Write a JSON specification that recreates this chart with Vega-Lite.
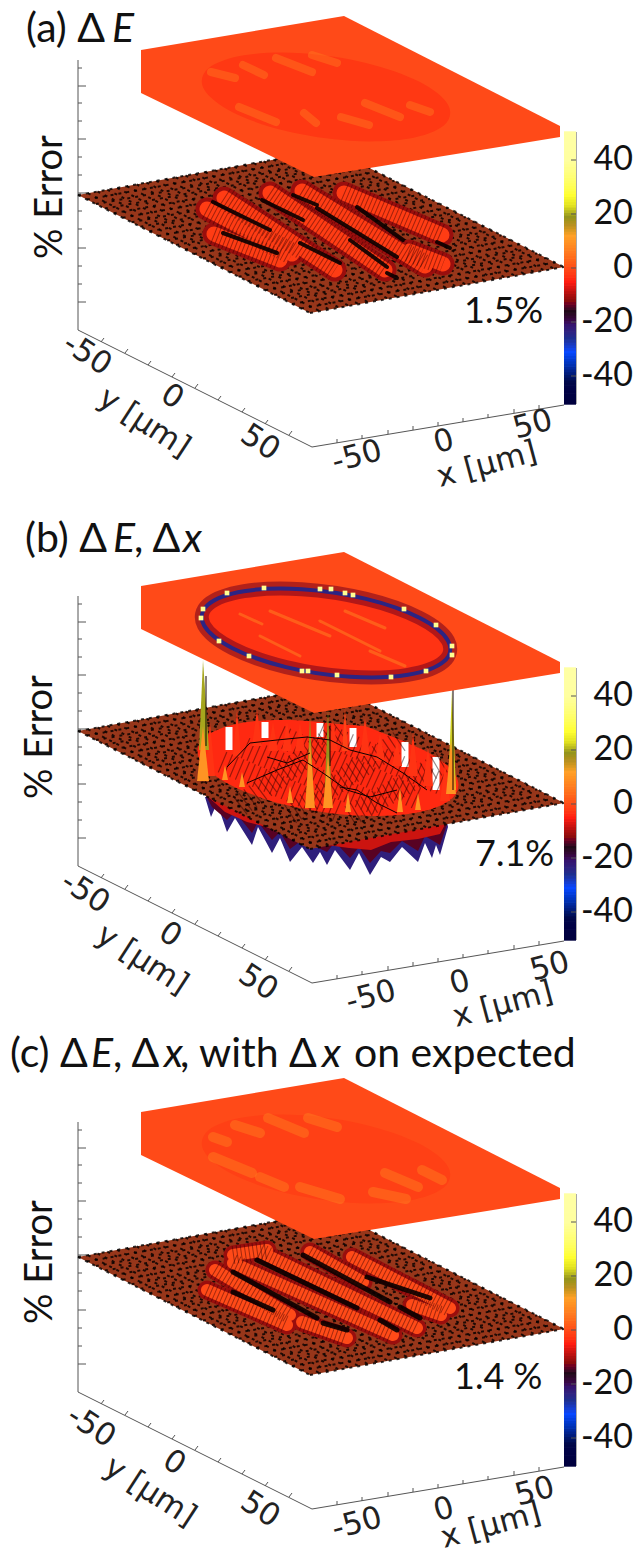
{
"$schema":"https://vega.github.io/schema/vega-lite/v6.json",
"padding":0,"spacing":0,"bounds":"flush","background":"white",
"config":{"view":{"stroke":null},"legend":{"disable":true},"text":{"font":"Lato"}},
"datasets":{
"bar":[{"e":-50},{"e":-49},{"e":-48},{"e":-47},{"e":-46},{"e":-45},{"e":-44},{"e":-43},{"e":-42},{"e":-41},{"e":-40},{"e":-39},{"e":-38},{"e":-37},{"e":-36},{"e":-35},{"e":-34},{"e":-33},{"e":-32},{"e":-31},{"e":-30},{"e":-29},{"e":-28},{"e":-27},{"e":-26},{"e":-25},{"e":-24},{"e":-23},{"e":-22},{"e":-21},{"e":-20},{"e":-19},{"e":-18},{"e":-17},{"e":-16},{"e":-15},{"e":-14},{"e":-13},{"e":-12},{"e":-11},{"e":-10},{"e":-9},{"e":-8},{"e":-7},{"e":-6},{"e":-5},{"e":-4},{"e":-3},{"e":-2},{"e":-1},{"e":0},{"e":1},{"e":2},{"e":3},{"e":4},{"e":5},{"e":6},{"e":7},{"e":8},{"e":9},{"e":10},{"e":11},{"e":12},{"e":13},{"e":14},{"e":15},{"e":16},{"e":17},{"e":18},{"e":19},{"e":20},{"e":21},{"e":22},{"e":23},{"e":24},{"e":25},{"e":26},{"e":27},{"e":28},{"e":29},{"e":30},{"e":31},{"e":32},{"e":33},{"e":34},{"e":35},{"e":36},{"e":37},{"e":38},{"e":39},{"e":40},{"e":41},{"e":42},{"e":43},{"e":44},{"e":45},{"e":46},{"e":47},{"e":48},{"e":49},{"e":50}],
"barLabel":[{"e":40},{"e":20},{"e":0},{"e":-20},{"e":-40}],
"axis":[{"x":78,"y":60,"x2":78,"y2":330},{"x":78,"y":330,"x2":312,"y2":447},{"x":312,"y":447,"x2":564,"y2":405},{"x":576,"y":132,"x2":576,"y2":404},{"x":78,"y":86,"x2":86,"y2":86},{"x":78,"y":139,"x2":86,"y2":139},{"x":78,"y":193,"x2":86,"y2":193},{"x":78,"y":248,"x2":86,"y2":248},{"x":78,"y":302,"x2":86,"y2":302},{"x":78,"y":68,"x2":82,"y2":68},{"x":78,"y":103,"x2":82,"y2":103},{"x":78,"y":121,"x2":82,"y2":121},{"x":78,"y":157,"x2":82,"y2":157},{"x":78,"y":175,"x2":82,"y2":175},{"x":78,"y":211,"x2":82,"y2":211},{"x":78,"y":229,"x2":82,"y2":229},{"x":78,"y":266,"x2":82,"y2":266},{"x":78,"y":284,"x2":82,"y2":284},{"x":101,"y":342,"x2":104,"y2":338},{"x":125,"y":353,"x2":128,"y2":349},{"x":148,"y":365,"x2":151,"y2":361},{"x":172,"y":377,"x2":175,"y2":373},{"x":195,"y":388,"x2":198,"y2":384},{"x":218,"y":400,"x2":221,"y2":396},{"x":242,"y":412,"x2":245,"y2":408},{"x":265,"y":424,"x2":268,"y2":420},{"x":289,"y":435,"x2":292,"y2":431},{"x":337,"y":443,"x2":337,"y2":439},{"x":362,"y":439,"x2":362,"y2":435},{"x":388,"y":434,"x2":388,"y2":430},{"x":413,"y":430,"x2":413,"y2":426},{"x":438,"y":426,"x2":438,"y2":422},{"x":463,"y":422,"x2":463,"y2":418},{"x":488,"y":418,"x2":488,"y2":414},{"x":514,"y":413,"x2":514,"y2":409},{"x":539,"y":409,"x2":539,"y2":405}],
"basePlate":[{"o":1,"x":78,"y":195},{"o":2,"x":310,"y":313},{"o":3,"x":564,"y":267},{"o":4,"x":332,"y":149}],
"topPlate":[{"o":1,"x":141,"y":50},{"o":2,"x":344,"y":16},{"o":3,"x":560,"y":126},{"o":4,"x":560,"y":137},{"o":5,"x":314,"y":177},{"o":6,"x":141,"y":93}],
"mesh":[{"x":78,"y":195,"x2":310,"y2":313},{"x":87.8,"y":193.2,"x2":319.8,"y2":311.2},{"x":97.5,"y":191.5,"x2":329.5,"y2":309.5},{"x":107.3,"y":189.7,"x2":339.3,"y2":307.7},{"x":117.1,"y":187.9,"x2":349.1,"y2":305.9},{"x":126.8,"y":186.2,"x2":358.8,"y2":304.2},{"x":136.6,"y":184.4,"x2":368.6,"y2":302.4},{"x":146.4,"y":182.6,"x2":378.4,"y2":300.6},{"x":156.2,"y":180.8,"x2":388.2,"y2":298.8},{"x":165.9,"y":179.1,"x2":397.9,"y2":297.1},{"x":175.7,"y":177.3,"x2":407.7,"y2":295.3},{"x":185.5,"y":175.5,"x2":417.5,"y2":293.5},{"x":195.2,"y":173.8,"x2":427.2,"y2":291.8},{"x":205,"y":172,"x2":437,"y2":290},{"x":214.8,"y":170.2,"x2":446.8,"y2":288.2},{"x":224.5,"y":168.5,"x2":456.5,"y2":286.5},{"x":234.3,"y":166.7,"x2":466.3,"y2":284.7},{"x":244.1,"y":164.9,"x2":476.1,"y2":282.9},{"x":253.8,"y":163.2,"x2":485.8,"y2":281.2},{"x":263.6,"y":161.4,"x2":495.6,"y2":279.4},{"x":273.4,"y":159.6,"x2":505.4,"y2":277.6},{"x":283.2,"y":157.8,"x2":515.2,"y2":275.8},{"x":292.9,"y":156.1,"x2":524.9,"y2":274.1},{"x":302.7,"y":154.3,"x2":534.7,"y2":272.3},{"x":312.5,"y":152.5,"x2":544.5,"y2":270.5},{"x":322.2,"y":150.8,"x2":554.2,"y2":268.8},{"x":332,"y":149,"x2":564,"y2":267},
{"x":78,"y":195,"x2":332,"y2":149},{"x":86.9,"y":199.5,"x2":340.9,"y2":153.5},{"x":95.8,"y":204.1,"x2":349.8,"y2":158.1},{"x":104.8,"y":208.6,"x2":358.8,"y2":162.6},{"x":113.7,"y":213.2,"x2":367.7,"y2":167.2},{"x":122.6,"y":217.7,"x2":376.6,"y2":171.7},{"x":131.5,"y":222.2,"x2":385.5,"y2":176.2},{"x":140.4,"y":226.8,"x2":394.4,"y2":180.8},{"x":149.4,"y":231.3,"x2":403.4,"y2":185.3},{"x":158.3,"y":235.9,"x2":412.3,"y2":189.9},{"x":167.2,"y":240.4,"x2":421.2,"y2":194.4},{"x":176.1,"y":244.9,"x2":430.1,"y2":198.9},{"x":185,"y":249.5,"x2":439,"y2":203.5},{"x":194,"y":254,"x2":448,"y2":208},{"x":202.9,"y":258.6,"x2":456.9,"y2":212.6},{"x":211.8,"y":263.1,"x2":465.8,"y2":217.1},{"x":220.7,"y":267.6,"x2":474.7,"y2":221.6},{"x":229.6,"y":272.2,"x2":483.6,"y2":226.2},{"x":238.6,"y":276.7,"x2":492.6,"y2":230.7},{"x":247.5,"y":281.3,"x2":501.5,"y2":235.3},{"x":256.4,"y":285.8,"x2":510.4,"y2":239.8},{"x":265.3,"y":290.3,"x2":519.3,"y2":244.3},{"x":274.2,"y":294.9,"x2":528.2,"y2":248.9},{"x":283.2,"y":299.4,"x2":537.2,"y2":253.4},{"x":292.1,"y":304,"x2":546.1,"y2":258},{"x":301,"y":308.5,"x2":555,"y2":262.5},{"x":310,"y":313,"x2":564,"y2":267}],
"ell":[{"o":1,"x":424.5,"y":214.5},{"o":2,"x":455.6,"y":239.2},{"o":3,"x":452.5,"y":262},{"o":4,"x":416,"y":276.8},{"o":5,"x":355.9,"y":279.6},{"o":6,"x":288.4,"y":269.6},{"o":7,"x":231.5,"y":249.5},{"o":8,"x":200.4,"y":224.8},{"o":9,"x":203.5,"y":202},{"o":10,"x":240,"y":187.2},{"o":11,"x":300.1,"y":184.4},{"o":12,"x":367.6,"y":194.4}],
"topEll":[{"o":1,"x":419.5,"y":81.8},{"o":2,"x":448,"y":104.7},{"o":3,"x":443.8,"y":125.6},{"o":4,"x":408,"y":138.8},{"o":5,"x":350.2,"y":140.8},{"o":6,"x":286,"y":131.1},{"o":7,"x":232.5,"y":112.2},{"o":8,"x":204,"y":89.3},{"o":9,"x":208.2,"y":68.4},{"o":10,"x":244,"y":55.2},{"o":11,"x":301.8,"y":53.2},{"o":12,"x":366,"y":62.9}],
"ridge":[{"p":"a","x":207,"y":209,"x2":292,"y2":254},{"p":"a","x":214,"y":234,"x2":280,"y2":260},{"p":"a","x":224,"y":198,"x2":335,"y2":270},{"p":"a","x":270,"y":193,"x2":385,"y2":270},{"p":"a","x":302,"y":191,"x2":425,"y2":266},{"p":"a","x":344,"y":193,"x2":442,"y2":235},{"p":"a","x":409,"y":251,"x2":443,"y2":264},
{"p":"b","x":222,"y":226,"x2":340,"y2":276},{"p":"b","x":245,"y":212,"x2":385,"y2":272},{"p":"b","x":280,"y":200,"x2":420,"y2":264},{"p":"b","x":320,"y":196,"x2":446,"y2":250},{"p":"b","x":240,"y":270,"x2":340,"y2":195},{"p":"b","x":290,"y":278,"x2":400,"y2":205},{"p":"b","x":350,"y":280,"x2":445,"y2":225},
{"p":"c","x":207,"y":228,"x2":287,"y2":263},{"p":"c","x":215,"y":208,"x2":290,"y2":253},{"p":"c","x":233,"y":201,"x2":393,"y2":273},{"p":"c","x":260,"y":190,"x2":417,"y2":266},{"p":"c","x":310,"y":190,"x2":363,"y2":220},{"p":"c","x":352,"y":195,"x2":450,"y2":246},{"p":"c","x":412,"y":243,"x2":441,"y2":253},{"p":"c","x":302,"y":260,"x2":347,"y2":276},{"p":"c","x":233,"y":193,"x2":267,"y2":188}],
"gap":[{"p":"a","x":213,"y":202,"x2":270,"y2":230},{"p":"a","x":262,"y":200,"x2":303,"y2":220},{"p":"a","x":293,"y":195,"x2":317,"y2":205},{"p":"a","x":317,"y":208,"x2":397,"y2":257},{"p":"a","x":357,"y":207,"x2":403,"y2":240},{"p":"a","x":223,"y":233,"x2":277,"y2":253},{"p":"a","x":300,"y":243,"x2":340,"y2":263},{"p":"a","x":350,"y":240,"x2":387,"y2":267},{"p":"a","x":387,"y":273,"x2":397,"y2":278},{"p":"a","x":437,"y":242,"x2":450,"y2":248},
{"p":"c","x":233,"y":210,"x2":317,"y2":256},{"p":"c","x":257,"y":198,"x2":357,"y2":246},{"p":"c","x":303,"y":193,"x2":390,"y2":240},{"p":"c","x":367,"y":215,"x2":430,"y2":236},{"p":"c","x":233,"y":230,"x2":273,"y2":248},{"p":"c","x":323,"y":261,"x2":347,"y2":268},{"p":"c","x":380,"y":258,"x2":397,"y2":268},{"p":"c","x":400,"y":245,"x2":420,"y2":256}],
"stripe":[{"p":"a","x":211,"y":72,"x2":235,"y2":78},{"p":"a","x":243,"y":65,"x2":264,"y2":75},{"p":"a","x":276,"y":58,"x2":312,"y2":72},{"p":"a","x":312,"y":55,"x2":337,"y2":63},{"p":"a","x":239,"y":107,"x2":276,"y2":122},{"p":"a","x":304,"y":113,"x2":316,"y2":123},{"p":"a","x":341,"y":117,"x2":369,"y2":125},{"p":"a","x":365,"y":103,"x2":400,"y2":117},{"p":"a","x":410,"y":105,"x2":430,"y2":112},
{"p":"b","x":270,"y":75,"x2":330,"y2":100},{"p":"b","x":320,"y":85,"x2":380,"y2":115},{"p":"b","x":260,"y":100,"x2":300,"y2":120},{"p":"b","x":370,"y":115,"x2":405,"y2":130},{"p":"b","x":240,"y":78,"x2":262,"y2":88},{"p":"b","x":345,"y":75,"x2":385,"y2":92},
{"p":"c","x":213,"y":75,"x2":227,"y2":80},{"p":"c","x":235,"y":63,"x2":260,"y2":71},{"p":"c","x":268,"y":56,"x2":304,"y2":71},{"p":"c","x":308,"y":56,"x2":337,"y2":65},{"p":"c","x":213,"y":95,"x2":252,"y2":111},{"p":"c","x":260,"y":115,"x2":284,"y2":125},{"p":"c","x":300,"y":125,"x2":340,"y2":137},{"p":"c","x":373,"y":130,"x2":406,"y2":137},{"p":"c","x":385,"y":111,"x2":418,"y2":125},{"p":"c","x":422,"y":108,"x2":442,"y2":118}],
"saw1":[{"o":1,"x":205,"y":261},{"o":2,"x":211,"y":281},{"o":3,"x":217,"y":267},{"o":4,"x":227,"y":296},{"o":5,"x":235,"y":282},{"o":6,"x":252,"y":309},{"o":7,"x":258,"y":291},{"o":8,"x":272,"y":317},{"o":9,"x":280,"y":302},{"o":10,"x":290,"y":326},{"o":11,"x":302,"y":311},{"o":12,"x":313,"y":327},{"o":13,"x":320,"y":316},{"o":14,"x":327,"y":329},{"o":15,"x":335,"y":314},{"o":16,"x":350,"y":334},{"o":17,"x":359,"y":317},{"o":18,"x":370,"y":339},{"o":19,"x":381,"y":321},{"o":20,"x":390,"y":326},{"o":21,"x":402,"y":311},{"o":22,"x":418,"y":326},{"o":23,"x":425,"y":307},{"o":24,"x":432,"y":322},{"o":25,"x":436,"y":309},{"o":26,"x":440,"y":319},{"o":27,"x":448,"y":291},{"o":28,"x":446,"y":281},{"o":29,"x":330,"y":260}],
"saw3":[{"o":1,"x":205,"y":258},{"o":2,"x":212,"y":271},{"o":3,"x":227,"y":284},{"o":4,"x":235,"y":276},{"o":5,"x":252,"y":297},{"o":6,"x":258,"y":286},{"o":7,"x":272,"y":304},{"o":8,"x":280,"y":296},{"o":9,"x":290,"y":313},{"o":10,"x":302,"y":304},{"o":11,"x":327,"y":316},{"o":12,"x":335,"y":306},{"o":13,"x":350,"y":322},{"o":14,"x":359,"y":311},{"o":15,"x":370,"y":327},{"o":16,"x":381,"y":315},{"o":17,"x":390,"y":317},{"o":18,"x":402,"y":305},{"o":19,"x":418,"y":315},{"o":20,"x":425,"y":300},{"o":21,"x":440,"y":309},{"o":22,"x":448,"y":285},{"o":23,"x":446,"y":275},{"o":24,"x":330,"y":255}],
"saw2":[{"o":1,"x":205,"y":258},{"o":2,"x":225,"y":276},{"o":3,"x":247,"y":286},{"o":4,"x":270,"y":292},{"o":5,"x":292,"y":303},{"o":6,"x":320,"y":308},{"o":7,"x":349,"y":312},{"o":8,"x":371,"y":314},{"o":9,"x":391,"y":306},{"o":10,"x":418,"y":303},{"o":11,"x":440,"y":298},{"o":12,"x":448,"y":283},{"o":13,"x":446,"y":275},{"o":14,"x":330,"y":255}],
"wall":[{"o":1,"x":203,"y":207},{"o":2,"x":219,"y":194},{"o":3,"x":243,"y":190},{"o":4,"x":284,"y":189},{"o":5,"x":325,"y":187},{"o":6,"x":365,"y":190},{"o":7,"x":406,"y":206},{"o":8,"x":446,"y":230},{"o":9,"x":454,"y":251},{"o":10,"x":400,"y":262},{"o":11,"x":300,"y":250},{"o":12,"x":220,"y":240}],
"slit":[{"x":229,"y":191,"x2":229,"y2":214},{"x":265,"y":186,"x2":265,"y2":202},{"x":320,"y":187,"x2":320,"y2":201},{"x":353,"y":192,"x2":353,"y2":211},{"x":405,"y":206,"x2":405,"y2":231},{"x":436,"y":221,"x2":436,"y2":254}],
"spike":[{"o":1,"g":"t1","e":-3,"x":205,"y":240},{"o":2,"g":"t1","e":-3,"x":210,"y":187},{"o":3,"g":"t1","e":-3,"x":215,"y":240},{"o":1,"g":"t2","e":-3,"x":233,"y":220},{"o":2,"g":"t2","e":-3,"x":237,"y":174},{"o":3,"g":"t2","e":-3,"x":241,"y":220},{"o":1,"g":"t3","e":-3,"x":252,"y":210},{"o":2,"g":"t3","e":-3,"x":257,"y":174},{"o":3,"g":"t3","e":-3,"x":262,"y":210},{"o":1,"g":"t4","e":-3,"x":268,"y":215},{"o":2,"g":"t4","e":-3,"x":273,"y":186},{"o":3,"g":"t4","e":-3,"x":278,"y":215},{"o":1,"g":"t5","e":-3,"x":282,"y":215},{"o":2,"g":"t5","e":-3,"x":287,"y":186},{"o":3,"g":"t5","e":-3,"x":292,"y":215},{"o":1,"g":"t6","e":-3,"x":295,"y":215},{"o":2,"g":"t6","e":-3,"x":300,"y":187},{"o":3,"g":"t6","e":-3,"x":305,"y":215},{"o":1,"g":"t7","e":-3,"x":328,"y":215},{"o":2,"g":"t7","e":-3,"x":333,"y":184},{"o":3,"g":"t7","e":-3,"x":338,"y":215},{"o":1,"g":"t9","e":-3,"x":360,"y":220},{"o":2,"g":"t9","e":-3,"x":365,"y":182},{"o":3,"g":"t9","e":-3,"x":370,"y":220},{"o":1,"g":"t10","e":-3,"x":375,"y":225},{"o":2,"g":"t10","e":-3,"x":380,"y":197},{"o":3,"g":"t10","e":-3,"x":385,"y":225},{"o":1,"g":"t11","e":-3,"x":392,"y":230},{"o":2,"g":"t11","e":-3,"x":397,"y":204},{"o":3,"g":"t11","e":-3,"x":402,"y":230},{"o":1,"g":"t12","e":-3,"x":408,"y":240},{"o":2,"g":"t12","e":-3,"x":413,"y":197},{"o":3,"g":"t12","e":-3,"x":418,"y":240},{"o":1,"g":"t13","e":-3,"x":423,"y":250},{"o":2,"g":"t13","e":-3,"x":428,"y":211},{"o":3,"g":"t13","e":-3,"x":433,"y":250},{"o":1,"g":"t14","e":-3,"x":440,"y":265},{"o":2,"g":"t14","e":-3,"x":445,"y":227},{"o":3,"g":"t14","e":-3,"x":450,"y":265},
{"o":1,"g":"s1","e":20,"x":199,"y":214},{"o":2,"g":"s1","e":20,"x":203,"y":124},{"o":3,"g":"s1","e":20,"x":209,"y":214},{"o":1,"g":"s2","e":22,"x":448,"y":254},{"o":2,"g":"s2","e":22,"x":452,"y":154},{"o":3,"g":"s2","e":22,"x":456,"y":254},{"o":1,"g":"s3","e":19,"x":306,"y":271},{"o":2,"g":"s3","e":19,"x":310,"y":181},{"o":3,"g":"s3","e":19,"x":314,"y":271},{"o":1,"g":"s4","e":19,"x":324,"y":271},{"o":2,"g":"s4","e":19,"x":328,"y":174},{"o":3,"g":"s4","e":19,"x":332,"y":271},{"o":1,"g":"s5","e":-1,"x":342,"y":215},{"o":2,"g":"s5","e":-1,"x":345,"y":172},{"o":3,"g":"s5","e":-1,"x":348,"y":215},{"o":1,"g":"s8","e":10,"x":287,"y":267},{"o":2,"g":"s8","e":10,"x":290,"y":250},{"o":3,"g":"s8","e":10,"x":293,"y":267},{"o":1,"g":"s9","e":10,"x":345,"y":276},{"o":2,"g":"s9","e":10,"x":348,"y":256},{"o":3,"g":"s9","e":10,"x":351,"y":276},{"o":1,"g":"s10","e":10,"x":397,"y":276},{"o":2,"g":"s10","e":10,"x":400,"y":251},{"o":3,"g":"s10","e":10,"x":403,"y":276},{"o":1,"g":"s11","e":10,"x":239,"y":251},{"o":2,"g":"s11","e":10,"x":242,"y":236},{"o":3,"g":"s11","e":10,"x":245,"y":251},{"o":1,"g":"s16","e":10,"x":222,"y":244},{"o":2,"g":"s16","e":10,"x":225,"y":229},{"o":3,"g":"s16","e":10,"x":228,"y":244},{"o":1,"g":"s17","e":10,"x":415,"y":274},{"o":2,"g":"s17","e":10,"x":418,"y":257},{"o":3,"g":"s17","e":10,"x":421,"y":274},{"o":1,"g":"s12","e":10,"x":197,"y":245},{"o":2,"g":"s12","e":10,"x":203,"y":190},{"o":3,"g":"s12","e":10,"x":209,"y":245},{"o":1,"g":"s13","e":10,"x":305,"y":272},{"o":2,"g":"s13","e":10,"x":310,"y":205},{"o":3,"g":"s13","e":10,"x":315,"y":272},{"o":1,"g":"s14","e":10,"x":323,"y":272},{"o":2,"g":"s14","e":10,"x":328,"y":220},{"o":3,"g":"s14","e":10,"x":333,"y":272},{"o":1,"g":"s15","e":10,"x":446,"y":258},{"o":2,"g":"s15","e":10,"x":451,"y":205},{"o":3,"g":"s15","e":10,"x":456,"y":258}],
"crack":[{"g":"c1","o":1,"x":227,"y":231},{"g":"c1","o":2,"x":250,"y":207},{"g":"c1","o":3,"x":277,"y":204},{"g":"c1","o":4,"x":307,"y":201},{"g":"c1","o":5,"x":330,"y":204},{"g":"c1","o":6,"x":350,"y":214},{"g":"c1","o":7,"x":377,"y":221},{"g":"c1","o":8,"x":403,"y":237},{"g":"c1","o":9,"x":427,"y":254},{"g":"c2","o":1,"x":247,"y":247},{"g":"c2","o":2,"x":277,"y":234},{"g":"c2","o":3,"x":303,"y":224},{"g":"c2","o":4,"x":323,"y":237},{"g":"c2","o":5,"x":347,"y":254},{"g":"c2","o":6,"x":370,"y":261},{"g":"c2","o":7,"x":397,"y":254},{"g":"c3","o":1,"x":267,"y":221},{"g":"c3","o":2,"x":287,"y":227},{"g":"c3","o":3,"x":310,"y":217},{"g":"c4","o":1,"x":340,"y":251},{"g":"c4","o":2,"x":357,"y":254},{"g":"c4","o":3,"x":377,"y":267},{"g":"c4","o":4,"x":397,"y":277},{"g":"c5","o":1,"x":453,"y":154},{"g":"c5","o":2,"x":453,"y":254},{"g":"c6","o":1,"x":206,"y":140},{"g":"c6","o":2,"x":206,"y":210},{"g":"c7","o":1,"x":330,"y":190},{"g":"c7","o":2,"x":330,"y":230}],
"dot":[{"x":203,"y":73},{"x":201,"y":82},{"x":227,"y":57},{"x":264,"y":52},{"x":320,"y":53},{"x":331,"y":53},{"x":345,"y":57},{"x":353,"y":59},{"x":404,"y":73},{"x":436,"y":89},{"x":452,"y":110},{"x":452,"y":119},{"x":426,"y":135},{"x":391,"y":141},{"x":337,"y":139},{"x":308,"y":135},{"x":302,"y":135},{"x":249,"y":120},{"x":219,"y":105}],
"txt":[{"p":"a","k":"tn","t":"(a) Δ","x":26,"y":42},{"p":"a","k":"ti","t":"E","x":112,"y":42},
{"p":"b","k":"tn","t":"(b) Δ","x":25,"y":16},{"p":"b","k":"ti","t":"E","x":113,"y":16},{"p":"b","k":"tn","t":", Δ","x":134,"y":16},{"p":"b","k":"ti","t":"x","x":183,"y":16},
{"p":"c","k":"tn","t":"(c) Δ","x":10,"y":5},{"p":"c","k":"ti","t":"E","x":91,"y":5},{"p":"c","k":"tn","t":", Δ","x":113,"y":5},{"p":"c","k":"ti","t":"x","x":164,"y":5},{"p":"c","k":"tn","t":", with Δ","x":180,"y":5},{"p":"c","k":"ti","t":"x","x":322,"y":5},{"p":"c","k":"tn","t":"on expected","x":354,"y":5},
{"p":"a","k":"ze","t":"% Error","x":51,"y":197},{"p":"b","k":"ze","t":"% Error","x":41,"y":201},{"p":"c","k":"ze","t":"% Error","x":41,"y":200},
{"p":"a","k":"pe","t":"1.5%","x":464,"y":323},{"p":"b","k":"pe","t":"7.1%","x":475,"y":330},{"p":"c","k":"pe","t":"1.4 %","x":454,"y":327},
{"p":"a","k":"yl","t":"-50","x":87,"y":355},{"p":"a","k":"yl","t":"0","x":172,"y":397},{"p":"a","k":"yl","t":"50","x":260,"y":443},{"p":"a","k":"yl","t":"y [µm]","x":144,"y":423},
{"p":"a","k":"xl","t":"-50","x":357,"y":457},{"p":"a","k":"xl","t":"0","x":444,"y":442},{"p":"a","k":"xl","t":"50","x":533,"y":425},{"p":"a","k":"xl","t":"x [µm]","x":487,"y":465},
{"p":"b","k":"yl","t":"-50","x":85,"y":357},{"p":"b","k":"yl","t":"0","x":170,"y":399},{"p":"b","k":"yl","t":"50","x":258,"y":447},{"p":"b","k":"yl","t":"y [µm]","x":142,"y":424},
{"p":"b","k":"xl","t":"-50","x":371,"y":461},{"p":"b","k":"xl","t":"0","x":460,"y":447},{"p":"b","k":"xl","t":"50","x":550,"y":431},{"p":"b","k":"xl","t":"x [µm]","x":503,"y":469},
{"p":"c","k":"yl","t":"-50","x":91,"y":365},{"p":"c","k":"yl","t":"0","x":174,"y":401},{"p":"c","k":"yl","t":"50","x":260,"y":448},{"p":"c","k":"yl","t":"y [µm]","x":150,"y":430},
{"p":"c","k":"xl","t":"-50","x":357,"y":462},{"p":"c","k":"xl","t":"0","x":444,"y":448},{"p":"c","k":"xl","t":"50","x":535,"y":430},{"p":"c","k":"xl","t":"x [µm]","x":491,"y":464}]
},
"vconcat":[
{"width":636,"height":536,"resolve":{"scale":{"y":"independent"}},"layer":[
{"encoding":{"x":{"field":"x","type":"quantitative","axis":null,"scale":{"domain":[0,636],"nice":false,"zero":false}},"y":{"field":"y","type":"quantitative","axis":null,"scale":{"domain":[536,0],"nice":false,"zero":false}}},"layer":[
{"data":{"name":"axis"},"mark":{"type":"rule","color":"#555","strokeWidth":1},"encoding":{"x2":{"field":"x2"},"y2":{"field":"y2"}}},
{"data":{"name":"basePlate"},"mark":{"type":"line","filled":true,"interpolate":"linear-closed","color":"#97361a"},"encoding":{"order":{"field":"o"}}},
{"data":{"name":"mesh"},"mark":{"type":"rule","color":"#000","strokeWidth":2,"strokeDash":[3,5],"opacity":0.8},"encoding":{"x2":{"field":"x2"},"y2":{"field":"y2"}}},
{"data":{"name":"ridge"},"transform":[{"filter":"datum.p=='a'"}],"mark":{"type":"rule","strokeWidth":23,"strokeCap":"round"},"encoding":{"x2":{"field":"x2"},"y2":{"field":"y2"},"color":{"datum":-11,"type":"quantitative"}}},
{"data":{"name":"ridge"},"transform":[{"filter":"datum.p=='a'"}],"mark":{"type":"rule","strokeWidth":15,"strokeCap":"round"},"encoding":{"x2":{"field":"x2"},"y2":{"field":"y2"},"color":{"datum":-2,"type":"quantitative"}}},
{"data":{"name":"ridge"},"transform":[{"filter":"datum.p=='a'"}],"mark":{"type":"rule","color":"#300","strokeWidth":22,"strokeDash":[1,3],"opacity":0.45},"encoding":{"x2":{"field":"x2"},"y2":{"field":"y2"}}},
{"data":{"name":"gap"},"transform":[{"filter":"datum.p=='a'"}],"mark":{"type":"rule","color":"#0a0000","strokeWidth":4,"strokeCap":"round","opacity":0.9},"encoding":{"x2":{"field":"x2"},"y2":{"field":"y2"}}},
{"data":{"name":"topPlate"},"mark":{"type":"line","filled":true,"interpolate":"linear-closed"},"encoding":{"order":{"field":"o"},"color":{"datum":0,"type":"quantitative"}}},
{"data":{"name":"topEll"},"mark":{"type":"line","filled":true,"interpolate":"cardinal-closed"},"encoding":{"order":{"field":"o"},"color":{"datum":-2.5,"type":"quantitative"}}},
{"data":{"name":"stripe"},"transform":[{"filter":"datum.p=='a'"}],"mark":{"type":"rule","strokeWidth":8,"strokeCap":"round","opacity":0.45},"encoding":{"x2":{"field":"x2"},"y2":{"field":"y2"},"color":{"datum":6,"type":"quantitative"}}},
{"data":{"name":"txt"},"transform":[{"filter":"datum.p=='a'&&datum.k=='tn'"}],"mark":{"type":"text","fontSize":41,"align":"left","baseline":"alphabetic","color":"#111"},"encoding":{"text":{"field":"t"}}},
{"data":{"name":"txt"},"transform":[{"filter":"datum.p=='a'&&datum.k=='ti'"}],"mark":{"type":"text","fontSize":41,"fontStyle":"italic","align":"left","baseline":"alphabetic","color":"#111"},"encoding":{"text":{"field":"t"}}},
{"data":{"name":"txt"},"transform":[{"filter":"datum.p=='a'&&datum.k=='ze'"}],"mark":{"type":"text","fontSize":38,"angle":270,"align":"center","baseline":"middle","color":"#111"},"encoding":{"text":{"field":"t"}}},
{"data":{"name":"txt"},"transform":[{"filter":"datum.p=='a'&&datum.k=='pe'"}],"mark":{"type":"text","fontSize":36,"align":"left","baseline":"alphabetic","color":"#111"},"encoding":{"text":{"field":"t"}}},
{"data":{"name":"txt"},"transform":[{"filter":"datum.p=='a'&&datum.k=='yl'"}],"mark":{"type":"text","font":"DejaVu Sans","fontSize":31,"angle":33,"align":"center","baseline":"middle","color":"#222"},"encoding":{"text":{"field":"t"}}},
{"data":{"name":"txt"},"transform":[{"filter":"datum.p=='a'&&datum.k=='xl'"}],"mark":{"type":"text","font":"DejaVu Sans","fontSize":31,"angle":-15,"align":"center","baseline":"middle","color":"#222"},"encoding":{"text":{"field":"t"}}}
]},
{"encoding":{"y":{"field":"e","type":"quantitative","axis":null,"scale":{"domain":[-50,50],"range":[403,133],"nice":false,"zero":false}}},"layer":[
{"data":{"name":"bar"},"mark":{"type":"rule","strokeWidth":3.4},"encoding":{"x":{"value":564},"x2":{"value":576},"color":{"field":"e","type":"quantitative","legend":null,"scale":{"domain":[-50,-42,-36,-31,-26,-21,-16,-12,-5,0,6,12,16,19,23,27,40,50],"range":["#000000","#00084a","#0030b0","#0848ff","#1c2e90","#35146e","#200818","#8a0c0c","#ff1c10","#ff4a18","#ff7a20","#ffa028","#b89020","#94941c","#e0e020","#ffff30","#ffffa0","#ffffff"]}}}},
{"data":{"name":"barLabel"},"mark":{"type":"rule","color":"#555","strokeWidth":1},"encoding":{"x":{"value":571},"x2":{"value":576}}},
{"data":{"name":"barLabel"},"mark":{"type":"text","fontSize":34,"align":"right","baseline":"middle","color":"#111"},"encoding":{"x":{"value":633},"text":{"field":"e"}}}
]}
]},
{"width":636,"height":526,"resolve":{"scale":{"y":"independent"}},"layer":[
{"encoding":{"x":{"field":"x","type":"quantitative","axis":null,"scale":{"domain":[0,636],"nice":false,"zero":false}},"y":{"field":"y","type":"quantitative","axis":null,"scale":{"domain":[526,0],"nice":false,"zero":false}}},"layer":[
{"data":{"name":"axis"},"mark":{"type":"rule","color":"#555","strokeWidth":1},"encoding":{"x2":{"field":"x2"},"y2":{"field":"y2"}}},
{"data":{"name":"saw1"},"mark":{"type":"line","filled":true,"interpolate":"linear-closed"},"encoding":{"order":{"field":"o"},"color":{"datum":-23,"type":"quantitative"}}},
{"data":{"name":"saw3"},"mark":{"type":"line","filled":true,"interpolate":"linear-closed"},"encoding":{"order":{"field":"o"},"color":{"datum":-14,"type":"quantitative"}}},
{"data":{"name":"saw2"},"mark":{"type":"line","filled":true,"interpolate":"linear-closed"},"encoding":{"order":{"field":"o"},"color":{"datum":-8,"type":"quantitative"}}},
{"data":{"name":"basePlate"},"mark":{"type":"line","filled":true,"interpolate":"linear-closed","color":"#97361a"},"encoding":{"order":{"field":"o"}}},
{"data":{"name":"mesh"},"mark":{"type":"rule","color":"#000","strokeWidth":2,"strokeDash":[3,5],"opacity":0.8},"encoding":{"x2":{"field":"x2"},"y2":{"field":"y2"}}},
{"data":{"name":"wall"},"mark":{"type":"line","filled":true,"interpolate":"linear-closed"},"encoding":{"order":{"field":"o"},"color":{"datum":-4,"type":"quantitative"}}},
{"data":{"name":"ell"},"mark":{"type":"line","filled":true,"interpolate":"cardinal-closed"},"encoding":{"order":{"field":"o"},"color":{"datum":-4,"type":"quantitative"}}},
{"data":{"name":"slit"},"mark":{"type":"rule","color":"white","strokeWidth":7},"encoding":{"x2":{"field":"x2"},"y2":{"field":"y2"}}},
{"data":{"name":"ridge"},"transform":[{"filter":"datum.p=='b'"}],"mark":{"type":"rule","color":"#200","strokeWidth":22,"strokeDash":[1.2,5],"opacity":0.45},"encoding":{"x2":{"field":"x2"},"y2":{"field":"y2"}}},
{"data":{"name":"spike"},"mark":{"type":"line","filled":true,"interpolate":"linear-closed"},"encoding":{"order":{"field":"o"},"detail":{"field":"g"},"color":{"field":"e","type":"quantitative"}}},
{"data":{"name":"crack"},"mark":{"type":"line","color":"#100","strokeWidth":1},"encoding":{"order":{"field":"o"},"detail":{"field":"g"}}},
{"data":{"name":"topPlate"},"mark":{"type":"line","filled":true,"interpolate":"linear-closed"},"encoding":{"order":{"field":"o"},"color":{"datum":0,"type":"quantitative"}}},
{"data":{"name":"topEll"},"mark":{"type":"line","filled":true,"interpolate":"cardinal-closed"},"encoding":{"order":{"field":"o"},"color":{"datum":-3,"type":"quantitative"}}},
{"data":{"name":"stripe"},"transform":[{"filter":"datum.p=='b'"}],"mark":{"type":"rule","strokeWidth":3,"strokeCap":"round","opacity":0.6},"encoding":{"x2":{"field":"x2"},"y2":{"field":"y2"},"color":{"datum":6,"type":"quantitative"}}},
{"data":{"name":"topEll"},"mark":{"type":"line","interpolate":"cardinal-closed","strokeWidth":14,"opacity":0.55},"encoding":{"order":{"field":"o"},"color":{"datum":-13,"type":"quantitative"}}},
{"data":{"name":"topEll"},"mark":{"type":"line","interpolate":"cardinal-closed","strokeWidth":4},"encoding":{"order":{"field":"o"},"color":{"datum":-24,"type":"quantitative"}}},
{"data":{"name":"dot"},"mark":{"type":"square","size":22,"opacity":1},"encoding":{"color":{"datum":38,"type":"quantitative"}}},
{"data":{"name":"txt"},"transform":[{"filter":"datum.p=='b'&&datum.k=='tn'"}],"mark":{"type":"text","fontSize":41,"align":"left","baseline":"alphabetic","color":"#111"},"encoding":{"text":{"field":"t"}}},
{"data":{"name":"txt"},"transform":[{"filter":"datum.p=='b'&&datum.k=='ti'"}],"mark":{"type":"text","fontSize":41,"fontStyle":"italic","align":"left","baseline":"alphabetic","color":"#111"},"encoding":{"text":{"field":"t"}}},
{"data":{"name":"txt"},"transform":[{"filter":"datum.p=='b'&&datum.k=='ze'"}],"mark":{"type":"text","fontSize":38,"angle":270,"align":"center","baseline":"middle","color":"#111"},"encoding":{"text":{"field":"t"}}},
{"data":{"name":"txt"},"transform":[{"filter":"datum.p=='b'&&datum.k=='pe'"}],"mark":{"type":"text","fontSize":36,"align":"left","baseline":"alphabetic","color":"#111"},"encoding":{"text":{"field":"t"}}},
{"data":{"name":"txt"},"transform":[{"filter":"datum.p=='b'&&datum.k=='yl'"}],"mark":{"type":"text","font":"DejaVu Sans","fontSize":31,"angle":33,"align":"center","baseline":"middle","color":"#222"},"encoding":{"text":{"field":"t"}}},
{"data":{"name":"txt"},"transform":[{"filter":"datum.p=='b'&&datum.k=='xl'"}],"mark":{"type":"text","font":"DejaVu Sans","fontSize":31,"angle":-15,"align":"center","baseline":"middle","color":"#222"},"encoding":{"text":{"field":"t"}}}
]},
{"encoding":{"y":{"field":"e","type":"quantitative","axis":null,"scale":{"domain":[-50,50],"range":[403,133],"nice":false,"zero":false}}},"layer":[
{"data":{"name":"bar"},"mark":{"type":"rule","strokeWidth":3.4},"encoding":{"x":{"value":564},"x2":{"value":576},"color":{"field":"e","type":"quantitative"}}},
{"data":{"name":"barLabel"},"mark":{"type":"rule","color":"#555","strokeWidth":1},"encoding":{"x":{"value":571},"x2":{"value":576}}},
{"data":{"name":"barLabel"},"mark":{"type":"text","fontSize":34,"align":"right","baseline":"middle","color":"#111"},"encoding":{"x":{"value":633},"text":{"field":"e"}}}
]}
]},
{"width":636,"height":487,"resolve":{"scale":{"y":"independent"}},"layer":[
{"encoding":{"x":{"field":"x","type":"quantitative","axis":null,"scale":{"domain":[0,636],"nice":false,"zero":false}},"y":{"field":"y","type":"quantitative","axis":null,"scale":{"domain":[487,0],"nice":false,"zero":false}}},"layer":[
{"data":{"name":"axis"},"mark":{"type":"rule","color":"#555","strokeWidth":1},"encoding":{"x2":{"field":"x2"},"y2":{"field":"y2"}}},
{"data":{"name":"basePlate"},"mark":{"type":"line","filled":true,"interpolate":"linear-closed","color":"#97361a"},"encoding":{"order":{"field":"o"}}},
{"data":{"name":"mesh"},"mark":{"type":"rule","color":"#000","strokeWidth":2,"strokeDash":[3,5],"opacity":0.8},"encoding":{"x2":{"field":"x2"},"y2":{"field":"y2"}}},
{"data":{"name":"ridge"},"transform":[{"filter":"datum.p=='c'"}],"mark":{"type":"rule","strokeWidth":19,"strokeCap":"round"},"encoding":{"x2":{"field":"x2"},"y2":{"field":"y2"},"color":{"datum":-11,"type":"quantitative"}}},
{"data":{"name":"ridge"},"transform":[{"filter":"datum.p=='c'"}],"mark":{"type":"rule","strokeWidth":12,"strokeCap":"round"},"encoding":{"x2":{"field":"x2"},"y2":{"field":"y2"},"color":{"datum":0,"type":"quantitative"}}},
{"data":{"name":"ridge"},"transform":[{"filter":"datum.p=='c'"}],"mark":{"type":"rule","color":"#300","strokeWidth":18,"strokeDash":[1,3],"opacity":0.45},"encoding":{"x2":{"field":"x2"},"y2":{"field":"y2"}}},
{"data":{"name":"gap"},"transform":[{"filter":"datum.p=='c'"}],"mark":{"type":"rule","color":"#0a0000","strokeWidth":5,"strokeCap":"round","opacity":0.9},"encoding":{"x2":{"field":"x2"},"y2":{"field":"y2"}}},
{"data":{"name":"topPlate"},"mark":{"type":"line","filled":true,"interpolate":"linear-closed"},"encoding":{"order":{"field":"o"},"color":{"datum":0,"type":"quantitative"}}},
{"data":{"name":"topEll"},"mark":{"type":"line","filled":true,"interpolate":"cardinal-closed"},"encoding":{"order":{"field":"o"},"color":{"datum":-1.5,"type":"quantitative"}}},
{"data":{"name":"stripe"},"transform":[{"filter":"datum.p=='c'"}],"mark":{"type":"rule","strokeWidth":10,"strokeCap":"round","opacity":0.45},"encoding":{"x2":{"field":"x2"},"y2":{"field":"y2"},"color":{"datum":7,"type":"quantitative"}}},
{"data":{"name":"txt"},"transform":[{"filter":"datum.p=='c'&&datum.k=='tn'"}],"mark":{"type":"text","fontSize":41,"align":"left","baseline":"alphabetic","color":"#111"},"encoding":{"text":{"field":"t"}}},
{"data":{"name":"txt"},"transform":[{"filter":"datum.p=='c'&&datum.k=='ti'"}],"mark":{"type":"text","fontSize":41,"fontStyle":"italic","align":"left","baseline":"alphabetic","color":"#111"},"encoding":{"text":{"field":"t"}}},
{"data":{"name":"txt"},"transform":[{"filter":"datum.p=='c'&&datum.k=='ze'"}],"mark":{"type":"text","fontSize":38,"angle":270,"align":"center","baseline":"middle","color":"#111"},"encoding":{"text":{"field":"t"}}},
{"data":{"name":"txt"},"transform":[{"filter":"datum.p=='c'&&datum.k=='pe'"}],"mark":{"type":"text","fontSize":36,"align":"left","baseline":"alphabetic","color":"#111"},"encoding":{"text":{"field":"t"}}},
{"data":{"name":"txt"},"transform":[{"filter":"datum.p=='c'&&datum.k=='yl'"}],"mark":{"type":"text","font":"DejaVu Sans","fontSize":31,"angle":33,"align":"center","baseline":"middle","color":"#222"},"encoding":{"text":{"field":"t"}}},
{"data":{"name":"txt"},"transform":[{"filter":"datum.p=='c'&&datum.k=='xl'"}],"mark":{"type":"text","font":"DejaVu Sans","fontSize":31,"angle":-15,"align":"center","baseline":"middle","color":"#222"},"encoding":{"text":{"field":"t"}}}
]},
{"encoding":{"y":{"field":"e","type":"quantitative","axis":null,"scale":{"domain":[-50,50],"range":[403,133],"nice":false,"zero":false}}},"layer":[
{"data":{"name":"bar"},"mark":{"type":"rule","strokeWidth":3.4},"encoding":{"x":{"value":564},"x2":{"value":576},"color":{"field":"e","type":"quantitative"}}},
{"data":{"name":"barLabel"},"mark":{"type":"rule","color":"#555","strokeWidth":1},"encoding":{"x":{"value":571},"x2":{"value":576}}},
{"data":{"name":"barLabel"},"mark":{"type":"text","fontSize":34,"align":"right","baseline":"middle","color":"#111"},"encoding":{"x":{"value":633},"text":{"field":"e"}}}
]}
]}
]}
